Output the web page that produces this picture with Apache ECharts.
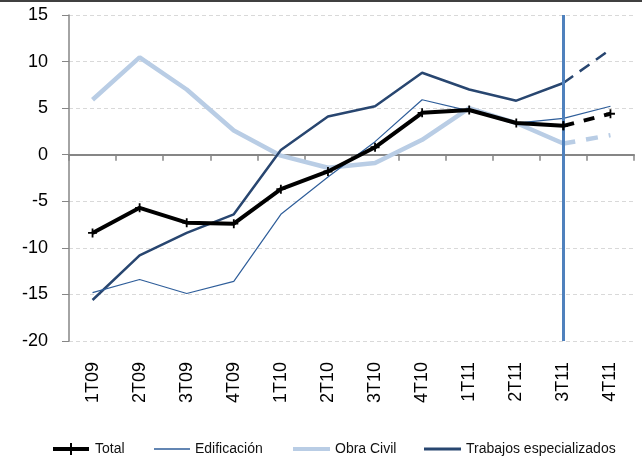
<!DOCTYPE html>
<html><head><meta charset="utf-8">
<script src="https://cdn.jsdelivr.net/npm/echarts@6/dist/echarts.min.js"></script>
<style>html,body{margin:0;padding:0;background:#fff}#c{width:642px;height:459px;position:relative}#bar{position:absolute;left:0;top:0;width:642px;height:2px;background:#404040;z-index:5}</style>
</head><body><div id="c"></div><div id="bar"></div>
<script>
const categories = ['1T09','2T09','3T09','4T09','1T10','2T10','3T10','4T10','1T11','2T11','3T11','4T11'];
const total      = [-8.4, -5.7, -7.3, -7.4, -3.7, -1.8, 0.8, 4.5, 4.8, 3.4, 3.1, 4.4];
const edificacion= [-14.8, -13.4, -14.9, -13.6, -6.4, -2.4, 1.4, 5.9, 4.7, 3.4, 3.9, 5.2];
const obraCivil  = [5.9, 10.45, 7.0, 2.6, -0.1, -1.4, -0.9, 1.6, 5.0, 3.4, 1.2, 2.1];
const trabajos   = [-15.6, -10.8, -8.4, -6.4, 0.5, 4.1, 5.2, 8.8, 7.0, 5.8, 7.7, 11.3];
const yTicks = {min: -20, max: 15, interval: 5};
const splitIdx = 10; // 3T11: last solid point, dashed afterwards

function solid(arr){ return arr.map((v,i)=> i<=splitIdx ? v : null); }
function dashed(arr){ return arr.map((v,i)=> i>=splitIdx ? v : null); }

const plus = 'path://M4,0h2v4h4v2h-4v4h-2v-4h-4v-2h4z';
const cTotal='#000000', cEd='#2F5E9A', cOC='#B9CDE5', cTr='#284670';
const font = '"Liberation Sans", "Open Sans", sans-serif';
const legText = {fontFamily:font,fontSize:14,color:'#111'};
const legTop = 437;

const chart = echarts.init(document.getElementById('c'));
chart.setOption({
  animation:false,
  grid:{left:69,right:8,top:15,bottom:118,containLabel:false},
  legend:[
    {data:[{name:'Total',icon:'path://M0,4h36v4h-36z M17,0h2v12h-2z'}],left:48,top:legTop,itemWidth:38,itemHeight:12,textStyle:legText,itemStyle:{color:cTotal}},
    {data:[{name:'Edificación',icon:'rect'}],left:149,top:legTop,itemWidth:36,itemHeight:1.5,textStyle:legText},
    {data:[{name:'Obra Civil',icon:'rect'}],left:288,top:legTop,itemWidth:37,itemHeight:4,textStyle:legText},
    {data:[{name:'Trabajos especializados',icon:'rect'}],left:419,top:legTop,itemWidth:37,itemHeight:3,textStyle:legText}
  ],
  xAxis:[
    {type:'category',data:categories,boundaryGap:true,
     axisLine:{onZero:true,lineStyle:{color:'#868686',width:2}},
     axisTick:{show:true,length:6,lineStyle:{color:'#868686',width:1.5}},
     axisLabel:{show:false},splitLine:{show:false}},
    {type:'category',data:categories,boundaryGap:true,position:'bottom',
     axisLine:{show:false,onZero:false},axisTick:{show:false},
     axisLabel:{rotate:90,margin:21,fontFamily:font,fontSize:18,color:'#000'},splitLine:{show:false}}
  ],
  yAxis:{type:'value',min:yTicks.min,max:yTicks.max,interval:yTicks.interval,
    axisLine:{show:true,onZero:false,lineStyle:{color:'#868686',width:1.5}},
    axisTick:{show:true,length:7,lineStyle:{color:'#868686'}},
    axisLabel:{fontFamily:font,fontSize:18,color:'#000',margin:21},
    splitLine:{show:true,lineStyle:{color:'#D9D9D9',type:[4,3],width:1}}
  },
  series:[
    {name:'Obra Civil',type:'line',data:solid(obraCivil),symbol:'none',
     lineStyle:{color:cOC,width:4.5},itemStyle:{color:cOC},z:2},
    {name:'Obra Civil',type:'line',data:dashed(obraCivil),symbol:'none',
     lineStyle:{color:cOC,width:4.5,type:[12,11]},itemStyle:{color:cOC},z:2},
    {name:'Trabajos especializados',type:'line',data:solid(trabajos),symbol:'none',
     lineStyle:{color:cTr,width:2.5},itemStyle:{color:cTr},z:3},
    {name:'Trabajos especializados',type:'line',data:dashed(trabajos),symbol:'none',
     lineStyle:{color:cTr,width:2.5,type:[12,8]},itemStyle:{color:cTr},z:3},
    {name:'Edificación',type:'line',data:edificacion,symbol:'none',
     lineStyle:{color:cEd,width:1.2},itemStyle:{color:cEd},z:4},
    {name:'Total',type:'line',data:solid(total),symbol:plus,symbolSize:9,showAllSymbol:true,
     lineStyle:{color:cTotal,width:4},itemStyle:{color:cTotal},z:5},
    {name:'Total',type:'line',data:dashed(total),symbol:plus,symbolSize:9,
     lineStyle:{color:cTotal,width:4,type:[11,10]},itemStyle:{color:cTotal},z:5,
     markLine:{silent:true,symbol:'none',label:{show:false},
       lineStyle:{color:'#4F81BD',width:3,type:'solid'},
       data:[{xAxis:'3T11'}]}}
  ]
});
</script></body></html>
